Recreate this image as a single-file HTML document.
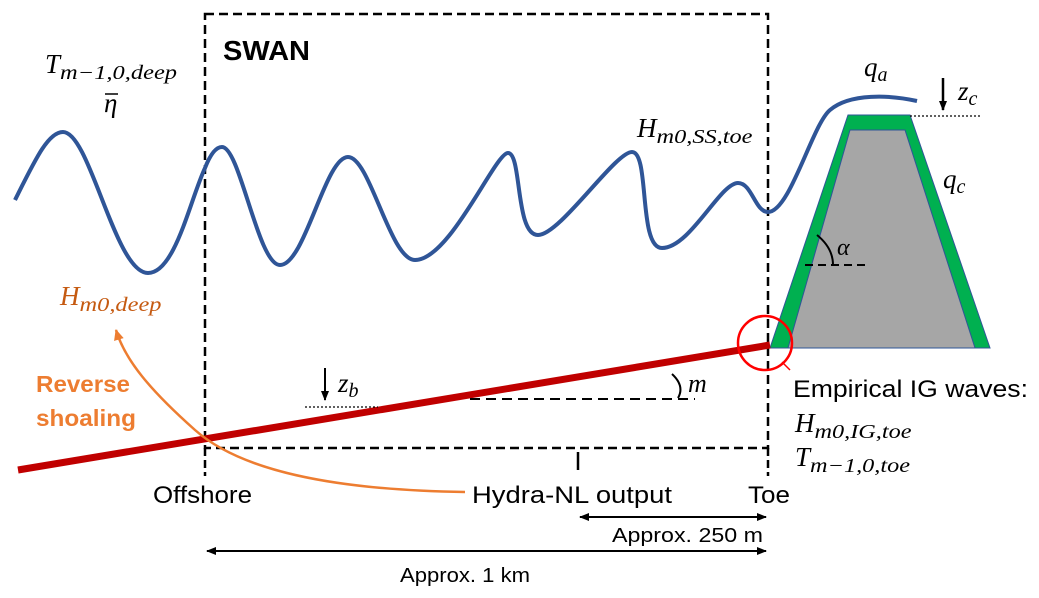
<!DOCTYPE html>
<html><head><meta charset="utf-8"><style>
body{margin:0;background:#fff}
svg{display:block}
.m{font-family:"Liberation Serif",serif;font-style:italic}
.s{font-family:"Liberation Sans","DejaVu Sans",sans-serif}
</style></head><body>
<svg width="1039" height="598" viewBox="0 0 1039 598">
<defs>
<marker id="ah" markerWidth="10" markerHeight="10" refX="9" refY="5" orient="auto-start-reverse" markerUnits="userSpaceOnUse"><path d="M0,1 L10,5 L0,9 Z" fill="#000"/></marker>
<marker id="aho" markerWidth="12" markerHeight="12" refX="10" refY="6" orient="auto" markerUnits="userSpaceOnUse"><path d="M0,1 L11,6 L0,11 Z" fill="#ED7D31"/></marker>
</defs>
<rect x="205" y="14" width="563" height="434" fill="none" stroke="#000" stroke-width="2.5" stroke-dasharray="9,5"/>
<text class="s" x="223" y="60" font-size="28" font-weight="bold" textLength="87" lengthAdjust="spacingAndGlyphs">SWAN</text>
<polygon points="848,115 910,115 990,348 770,348" fill="#00B050" stroke="#2F5597" stroke-width="1"/>
<polygon points="850,130 905,130 975,348 788,348" fill="#A6A6A6" stroke="#2F5597" stroke-width="1"/>
<path d="M805,265 H870" stroke="#000" stroke-width="2" stroke-dasharray="8,5" fill="none"/>
<path d="M817,235 Q833,248 833,265" stroke="#000" stroke-width="2" fill="none"/>
<text class="m" x="837" y="255" font-size="24" font-style="normal">α</text>
<path d="M15,200 C35,160 48,132 63,132 C90,132 115,273 148,273 C175,273 190,200 205,168 C212,150 218,147 222,147 C240,147 258,265 280,265 C305,265 325,157 348,157 C370,157 390,260 415,260 C450,260 495,153 508,153 C522,153 515,235 538,235 C560,235 615,152 632,152 C650,152 638,248 662,248 C690,248 720,183 738,183 C752,183 755,212 768,212 C790,212 812,125 830,110 C850,93 890,95 917,101" fill="none" stroke="#2F5597" stroke-width="4"/>
<line x1="18" y1="470" x2="770" y2="345" stroke="#C00000" stroke-width="7"/>
<circle cx="765" cy="343" r="27" fill="none" stroke="#FF0000" stroke-width="2.5"/>
<line x1="790" y1="370" x2="782" y2="362" stroke="#FF0000" stroke-width="1.5"/>
<path d="M470,399 H695" stroke="#000" stroke-width="2" stroke-dasharray="10,6" fill="none"/>
<path d="M672,374 Q685,386 678,398" stroke="#000" stroke-width="2" fill="none"/>
<text class="m" x="688" y="392" font-size="26">m</text>
<line x1="325" y1="368" x2="325" y2="400" stroke="#000" stroke-width="2" marker-end="url(#ah)"/>
<line x1="305" y1="407" x2="378" y2="407" stroke="#000" stroke-width="1.2" stroke-dasharray="2,2"/>
<text class="m" x="338" y="392" font-size="27">z<tspan font-size="20" dy="5">b</tspan></text>
<line x1="943" y1="78" x2="943" y2="110" stroke="#000" stroke-width="2.5" marker-end="url(#ah)"/>
<line x1="910" y1="116" x2="980" y2="116" stroke="#000" stroke-width="1.2" stroke-dasharray="2,2"/>
<text class="m" x="958" y="100" font-size="27">z<tspan font-size="20" dy="5">c</tspan></text>
<text class="m" x="864" y="76" font-size="27">q<tspan font-size="20" dy="5">a</tspan></text>
<text class="m" x="943" y="188" font-size="27">q<tspan font-size="20" dy="5">c</tspan></text>
<text class="m" x="637" y="137" font-size="27">H<tspan font-size="20" dy="6" textLength="96" lengthAdjust="spacingAndGlyphs">m0,SS,toe</tspan></text>
<text class="m" x="45" y="73" font-size="27">T<tspan font-size="20" dy="6" textLength="117" lengthAdjust="spacingAndGlyphs">m−1,0,deep</tspan></text>
<text class="m" x="104" y="112" font-size="27" font-style="normal">η</text>
<line x1="105" y1="94" x2="118" y2="94" stroke="#000" stroke-width="1.5"/>
<text class="m" x="60" y="305" font-size="27" fill="#C55A11">H<tspan font-size="20" dy="6" textLength="82" lengthAdjust="spacingAndGlyphs">m0,deep</tspan></text>
<path d="M465,492 C330,490 240,470 195,430 C150,390 125,360 116,330" fill="none" stroke="#ED7D31" stroke-width="2.5" marker-end="url(#aho)"/>
<text class="s" font-size="23" font-weight="bold" fill="#ED7D31"><tspan x="36" y="392" textLength="94" lengthAdjust="spacingAndGlyphs">Reverse</tspan><tspan x="36" y="426" textLength="100" lengthAdjust="spacingAndGlyphs">shoaling</tspan></text>
<text class="s" x="793" y="397" font-size="24" textLength="235" lengthAdjust="spacingAndGlyphs">Empirical IG waves:</text>
<text class="m" x="795" y="432" font-size="27">H<tspan font-size="20" dy="6" textLength="97" lengthAdjust="spacingAndGlyphs">m0,IG,toe</tspan></text>
<text class="m" x="795" y="466" font-size="27">T<tspan font-size="20" dy="6" textLength="100" lengthAdjust="spacingAndGlyphs">m−1,0,toe</tspan></text>
<line x1="205" y1="448" x2="205" y2="476" stroke="#000" stroke-width="2.5" stroke-dasharray="8,4"/>
<line x1="578" y1="452" x2="578" y2="470" stroke="#000" stroke-width="2.5"/>
<line x1="768" y1="448" x2="768" y2="476" stroke="#000" stroke-width="2.5" stroke-dasharray="8,4"/>
<text class="s" x="153" y="503" font-size="24" textLength="99" lengthAdjust="spacingAndGlyphs">Offshore</text>
<text class="s" x="472" y="503" font-size="24" textLength="200" lengthAdjust="spacingAndGlyphs">Hydra-NL output</text>
<text class="s" x="748" y="503" font-size="24" textLength="42" lengthAdjust="spacingAndGlyphs">Toe</text>
<line x1="580" y1="517" x2="766" y2="517" stroke="#000" stroke-width="2" marker-start="url(#ah)" marker-end="url(#ah)"/>
<text class="s" x="612" y="542" font-size="20" textLength="151" lengthAdjust="spacingAndGlyphs">Approx. 250 m</text>
<line x1="207" y1="551" x2="766" y2="551" stroke="#000" stroke-width="2" marker-start="url(#ah)" marker-end="url(#ah)"/>
<text class="s" x="400" y="582" font-size="20" textLength="130" lengthAdjust="spacingAndGlyphs">Approx. 1 km</text>
</svg>
</body></html>
